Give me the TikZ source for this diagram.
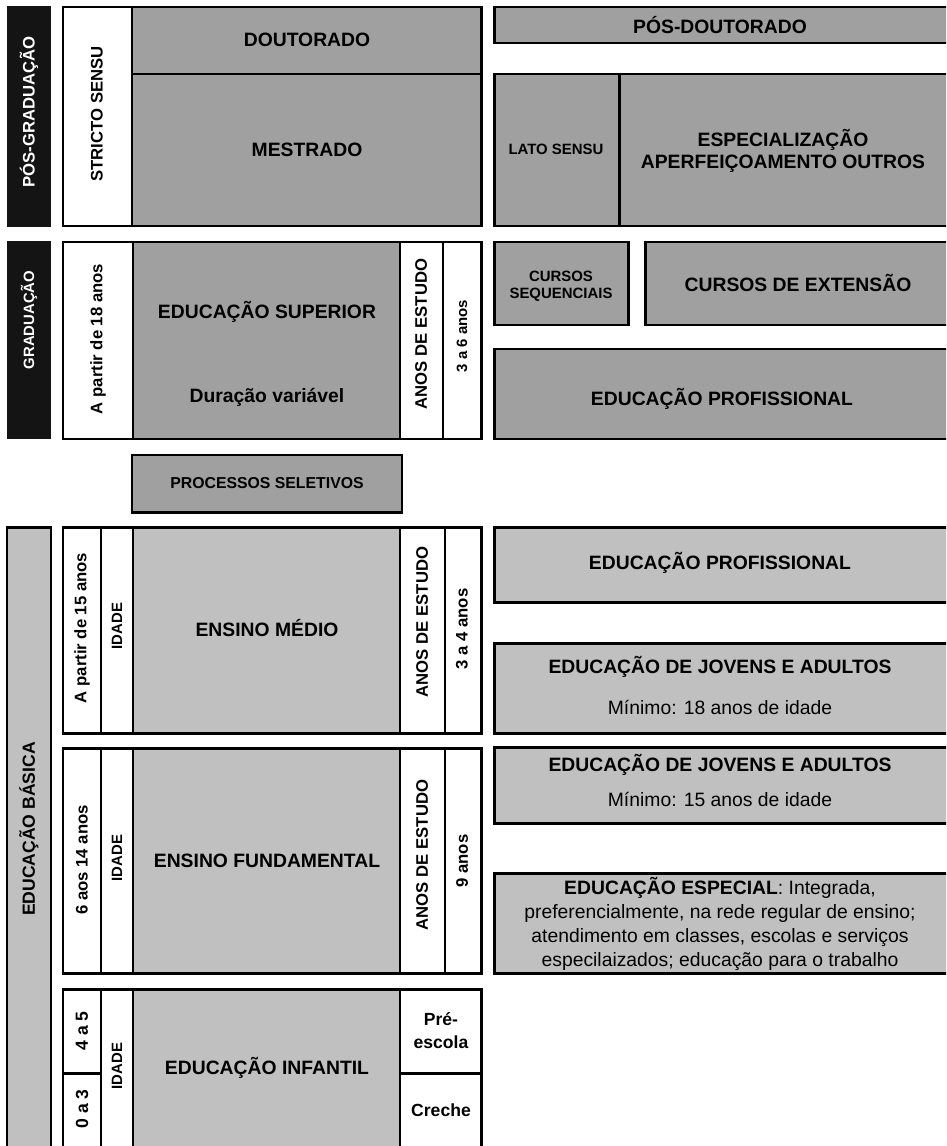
\documentclass[tikz,border=0pt]{standalone}
\usepackage{fontspec}
\setmainfont{Liberation Sans}
\definecolor{darkbox}{HTML}{A0A0A0}
\definecolor{lightbox}{HTML}{C0C0C0}
\definecolor{barblack}{HTML}{141414}

\begin{document}
\begin{tikzpicture}[x=0.2mm, y=-0.2mm,
            frame/.style={draw=black, line width=1.7pt},
            dark/.style={frame, fill=darkbox},
            light/.style={frame, fill=lightbox},
            blank/.style={frame, fill=white},
            title/.style={font=\fontsize{11}{12.5}\selectfont\bfseries, align=center, inner sep=0pt},
            plain/.style={font=\fontsize{11}{13.8}\selectfont, align=center, inner sep=0pt},
            small/.style={font=\fontsize{8.5}{9.5}\selectfont\bfseries, align=center, inner sep=0pt},
            side/.style={font=\fontsize{9.5}{11}\selectfont\bfseries, rotate=90, inner sep=0pt},
            tiny/.style={font=\fontsize{8.5}{10}\selectfont\bfseries, rotate=90, inner sep=0pt}]
    \useasboundingbox (0,0) rectangle (946,1146);
    \clip (0,0) rectangle (946,1146);
    \fill[white] (0,0) rectangle (946,1146);

    \fill[barblack] (7,6) rectangle (51,227);
    \draw[blank] (63,7) rectangle (132,226);
    \draw[dark] (132,7) rectangle (481,74);
    \draw[dark] (132,74) rectangle (481,226);
    \draw[dark] (494,7) rectangle (960,43);
    \draw[dark] (494,74) rectangle (619,226);
    \draw[dark] (619,74) rectangle (960,226);

    \fill[barblack] (7,241) rectangle (51,439);
    \draw[blank] (63,242) rectangle (133,439);
    \draw[dark] (133,242) rectangle (400,439);
    \draw[blank] (400,242) rectangle (443,439);
    \draw[blank] (443,242) rectangle (481,439);
    \draw[dark] (494,242) rectangle (628,325);
    \draw[dark] (645,242) rectangle (960,325);
    \draw[dark] (494,349) rectangle (960,439);

    \draw[dark] (132,455) rectangle (402,512);

    \draw[light] (7,527) rectangle (51,1170);
    \foreach \ya/\yb in {527/733, 748/973} {
        \draw[blank] (63,\ya) rectangle (101,\yb);
        \draw[blank] (101,\ya) rectangle (133,\yb);
        \draw[light] (133,\ya) rectangle (400,\yb);
        \draw[blank] (400,\ya) rectangle (445,\yb);
        \draw[blank] (445,\ya) rectangle (481,\yb);
    }
    \draw[light] (494,527) rectangle (960,602);
    \draw[light] (494,643) rectangle (960,733);
    \draw[light] (494,747) rectangle (960,823);
    \draw[light] (494,873) rectangle (960,973);

    \draw[blank] (63,989) rectangle (101,1073);
    \draw[blank] (63,1073) rectangle (101,1170);
    \draw[blank] (101,989) rectangle (133,1170);
    \draw[light] (133,989) rectangle (400,1170);
    \draw[blank] (400,989) rectangle (481,1073);
    \draw[blank] (400,1073) rectangle (481,1170);

    \node at (29,112) [side, white] (posgrad) {PÓS-GRADUAÇÃO};
    \node at (97,114) [side] (stricto) {STRICTO SENSU};
    \node at (307,40) [title] (doutorado) {DOUTORADO};
    \node at (307,150) [title] (mestrado) {MESTRADO};
    \node at (720,25) [title] (posdout) {PÓS-DOUTORADO};
    \node at (556,149) [small] (lato) {LATO SENSU};
    \node at (783,151) [title] (espec) {ESPECIALIZAÇÃO\\APERFEIÇOAMENTO OUTROS};

    \node at (29,320) [side, white, font=\fontsize{8.5}{10}\selectfont\bfseries] (grad) {GRADUAÇÃO};
    \node at (98,339) [side] (idade18) {A partir de 18 anos};
    \node at (267,312) [title] (esup) {EDUCAÇÃO SUPERIOR};
    \node at (267,397) [title] (duracao) {Duração variável};
    \node at (421,334) [side] (anossup) {ANOS DE ESTUDO};
    \node at (462,336) [tiny] (anos36) {3 a 6 anos};
    \node at (561,286) [small] (cseq) {CURSOS\\SEQUENCIAIS};
    \node at (798,283) [title] (cext) {CURSOS DE EXTENSÃO};
    \node at (722,399) [title] (eprof1) {EDUCAÇÃO PROFISSIONAL};

    \node at (267,483) [small, font=\fontsize{9}{10}\selectfont\bfseries] (procsel) {PROCESSOS SELETIVOS};

    \node at (29,829) [side, font=\fontsize{10}{11}\selectfont\bfseries] (ebasica) {EDUCAÇÃO BÁSICA};

    \node at (82,628) [side] (idade15) {A partir de 15 anos};
    \node at (117,626) [tiny] (idmedio) {IDADE};
    \node at (267,628) [title] (emedio) {ENSINO MÉDIO};
    \node at (422,622) [side] (anosmedio) {ANOS DE ESTUDO};
    \node at (462,629) [side] (anos34) {3 a 4 anos};
    \node at (720,563) [title] (eprof2) {EDUCAÇÃO PROFISSIONAL};
    \node at (720,667) [title] (eja18) {EDUCAÇÃO DE JOVENS E ADULTOS};
    \node at (720,707) [plain] (min18) {Mínimo: 18 anos de idade};

    \node at (82,860) [side] (idade614) {6 aos 14 anos};
    \node at (117,858) [tiny] (idfund) {IDADE};
    \node at (267,861) [title] (efund) {ENSINO FUNDAMENTAL};
    \node at (422,855) [side] (anosfund) {ANOS DE ESTUDO};
    \node at (462,861) [side] (anos9) {9 anos};
    \node at (720,765) [title] (eja15) {EDUCAÇÃO DE JOVENS E ADULTOS};
    \node at (720,799) [plain] (min15) {Mínimo: 15 anos de idade};
    \node at (720,924) [plain] (especial) {\textbf{EDUCAÇÃO ESPECIAL}: Integrada,\\preferencialmente, na rede regular de ensino;\\atendimento em classes, escolas e serviços\\especilaizados; educação para o trabalho};

    \node at (82,1031) [side, font=\fontsize{10}{11}\selectfont\bfseries] (idade45) {4 a 5};
    \node at (82,1109) [side, font=\fontsize{10}{11}\selectfont\bfseries] (idade03) {0 a 3};
    \node at (117,1066) [tiny] (idinf) {IDADE};
    \node at (267,1068) [title] (einf) {EDUCAÇÃO INFANTIL};
    \node at (441,1031) [title, font=\fontsize{10}{13}\selectfont\bfseries] (preesc) {Pré-\\escola};
    \node at (441,1110) [title, font=\fontsize{10}{13}\selectfont\bfseries] (creche) {Creche};
\end{tikzpicture}
\end{document}
